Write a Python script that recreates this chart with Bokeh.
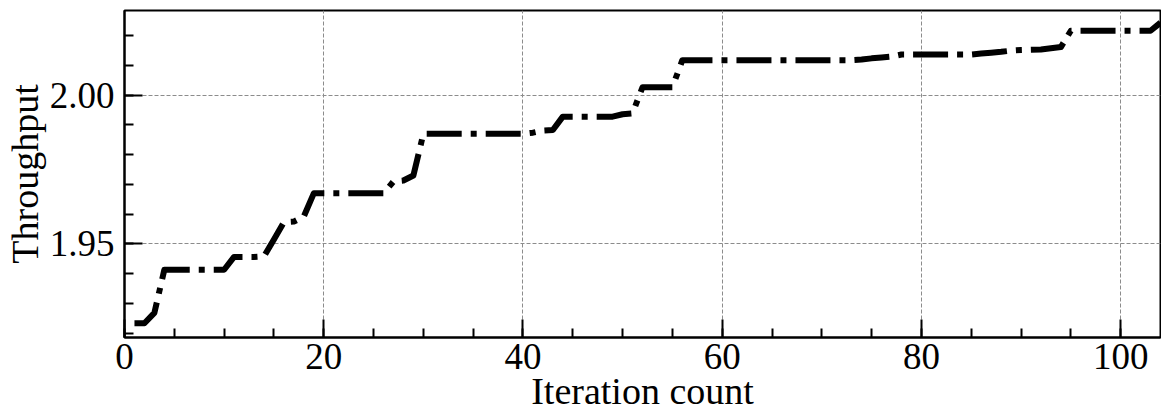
from bokeh.plotting import figure
from bokeh.models import Range1d, SingleIntervalTicker, PrintfTickFormatter
from bokeh.embed import file_html
from bokeh.resources import INLINE

# Best throughput found so far, one value per optimisation iteration
iterations = list(range(1, 105))
throughput = [
    1.9233, 1.9233, 1.9268, 1.9413, 1.9413, 1.9413, 1.9413, 1.9413, 1.9413, 1.9413,  # 1-10
    1.9456, 1.9456, 1.9456, 1.9458, 1.9515, 1.9573, 1.9575, 1.9592, 1.9670, 1.9670,  # 11-20
    1.9670, 1.9670, 1.9670, 1.9670, 1.9670, 1.9670, 1.9710, 1.9713, 1.9730, 1.9870,  # 21-30
    1.9870, 1.9870, 1.9870, 1.9870, 1.9870, 1.9870, 1.9870, 1.9870, 1.9870, 1.9870,  # 31-40
    1.9874, 1.9881, 1.9883, 1.9928, 1.9928, 1.9928, 1.9928, 1.9928, 1.9928, 1.9936,  # 41-50
    1.9939, 2.0027, 2.0027, 2.0027, 2.0027, 2.0118, 2.0118, 2.0118, 2.0118, 2.0118,  # 51-60
    2.0118, 2.0118, 2.0118, 2.0118, 2.0118, 2.0118, 2.0118, 2.0118, 2.0118, 2.0118,  # 61-70
    2.0118, 2.0118, 2.0118, 2.0120, 2.0124, 2.0127, 2.0130, 2.0137, 2.0137, 2.0137,  # 71-80
    2.0137, 2.0137, 2.0137, 2.0137, 2.0137, 2.0140, 2.0143, 2.0146, 2.0150, 2.0152,  # 81-90
    2.0153, 2.0154, 2.0158, 2.0162, 2.0217, 2.0217, 2.0217, 2.0217, 2.0217, 2.0217,  # 91-100
    2.0217, 2.0217, 2.0217, 2.0244,                                                  # 101-104
]

x_label = "Iteration count"
y_label = "Throughput"

FONT = "Liberation Serif"

p = figure(
    width=1161, height=416,
    x_range=Range1d(0, 104), y_range=Range1d(1.9185, 2.0285),
    output_backend="svg", toolbar_location=None,
    min_border_left=124, min_border_right=1,
    min_border_top=10, min_border_bottom=79,
)

p.line(iterations, throughput, line_color="black", line_width=6,
       line_dash="35 9 6 9", line_join="round")

p.xaxis.ticker = SingleIntervalTicker(interval=20, num_minor_ticks=4)
p.yaxis.ticker = SingleIntervalTicker(interval=0.05, num_minor_ticks=5)
p.yaxis.formatter = PrintfTickFormatter(format="%.2f")

p.xaxis.axis_label = x_label
p.yaxis.axis_label = y_label

for ax in (p.xaxis, p.yaxis):
    ax.axis_line_color = "black"
    ax.axis_line_width = 2
    ax.major_tick_in = 18
    ax.major_tick_out = 0
    ax.minor_tick_in = 9
    ax.minor_tick_out = 0
    ax.major_tick_line_color = "black"
    ax.major_tick_line_width = 2
    ax.minor_tick_line_color = "black"
    ax.minor_tick_line_width = 2
    ax.major_label_text_font = FONT
    ax.major_label_text_font_size = "37px"
    ax.major_label_text_color = "black"
    ax.axis_label_text_font = FONT
    ax.axis_label_text_font_size = "38px"
    ax.axis_label_text_font_style = "normal"
    ax.axis_label_text_color = "black"

p.xaxis.major_label_standoff = 6
p.xaxis.axis_label_standoff = -2
p.yaxis.major_label_standoff = 10
p.yaxis.axis_label_standoff = 1

p.grid.grid_line_color = "#8c8c8c"
p.grid.grid_line_width = 1
p.grid.grid_line_dash = "4 2"

p.outline_line_color = "black"
p.outline_line_width = 2
p.outline_line_alpha = 1

open("out.html", "w").write(file_html(p, INLINE))
